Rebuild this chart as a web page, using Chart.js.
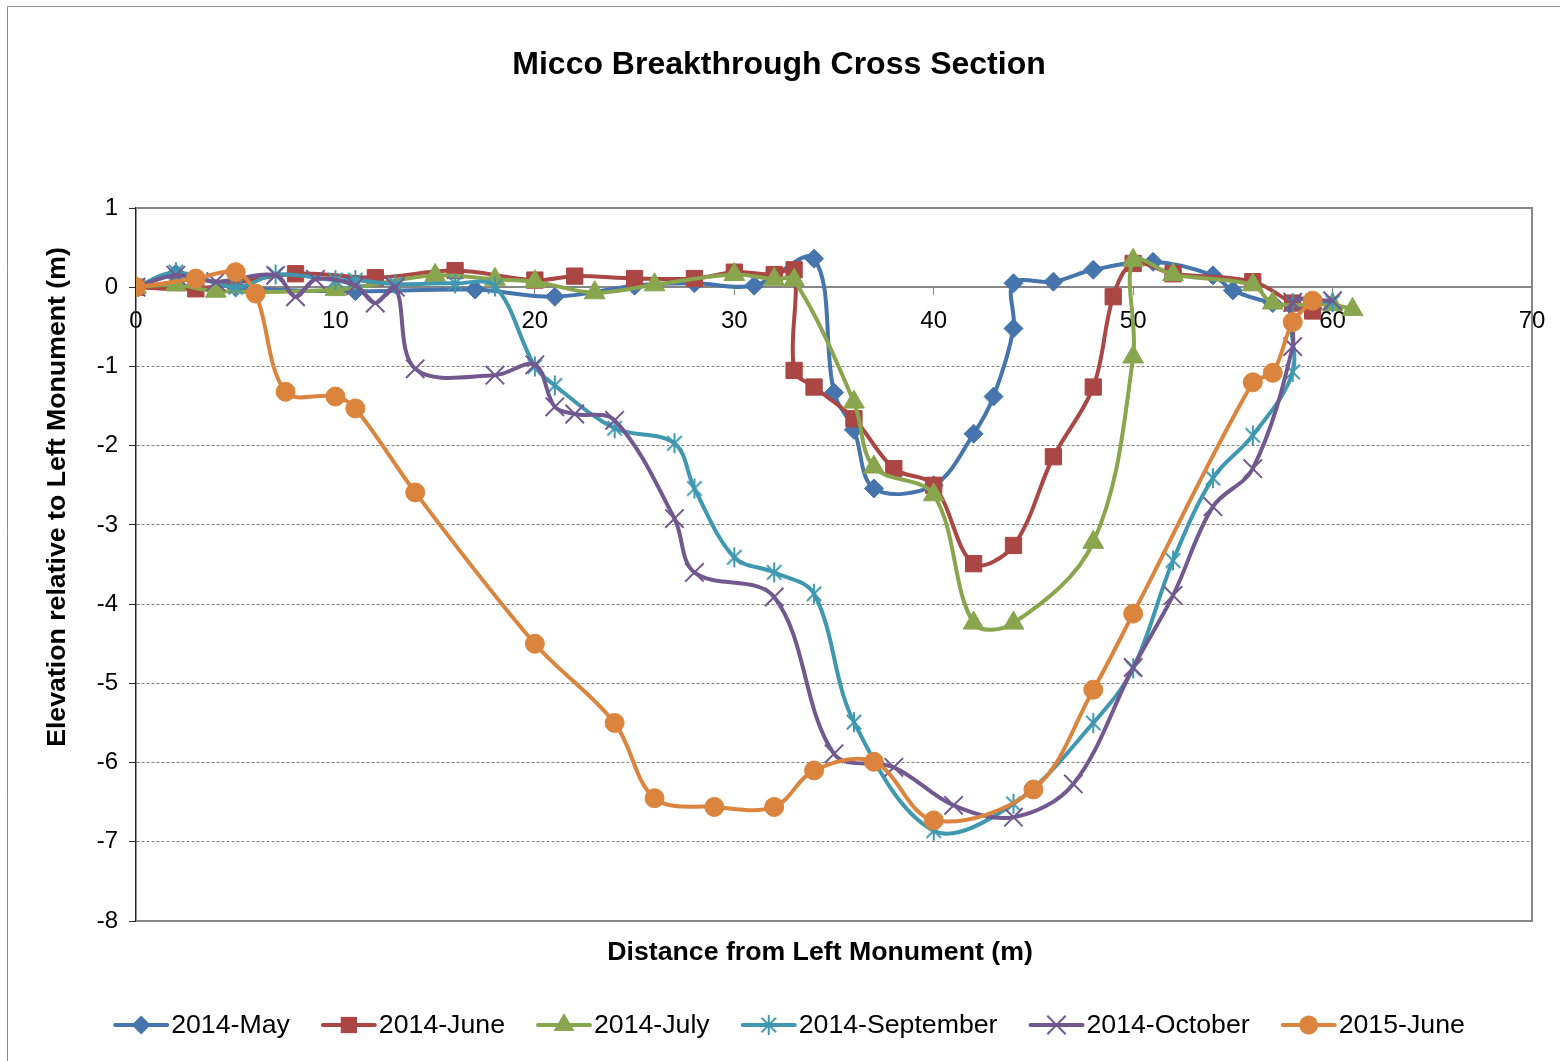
<!DOCTYPE html>
<html>
<head>
<meta charset="utf-8">
<script src="https://cdn.jsdelivr.net/npm/chart.js@4.4.1/dist/chart.umd.min.js"></script>
<style>
  html, body { margin: 0; background: #fff; }
  canvas { display: block; }
</style>
</head>
<body>
<canvas id="myChart" width="1560" height="1061"></canvas>
<script>
// series data (distance m, elevation m)
const seriesNames = ['2014-May', '2014-June', '2014-July', '2014-September', '2014-October', '2015-June'];

const mayDist = [0, 2, 5, 11, 17, 21, 25, 28, 31, 34, 35, 36, 37, 40, 42, 43, 44, 44, 46, 48, 51, 54, 55, 57, 59];
const mayElev = [0, 0.17, 0, -0.05, -0.03, -0.12, 0.02, 0.05, 0.02, 0.36, -1.33, -1.8, -2.54, -2.5, -1.85, -1.38, -0.52, 0.05, 0.07, 0.22, 0.32, 0.15, -0.04, -0.2, -0.27];

const juneDist = [0, 3, 8, 12, 16, 20, 22, 25, 28, 30, 32, 33, 33, 34, 36, 38, 40, 42, 44, 46, 48, 49, 50, 52, 56, 58, 59];
const juneElev = [0, -0.02, 0.17, 0.12, 0.21, 0.09, 0.14, 0.11, 0.11, 0.19, 0.16, 0.22, -1.05, -1.26, -1.66, -2.29, -2.5, -3.49, -3.26, -2.14, -1.26, -0.12, 0.3, 0.17, 0.07, -0.2, -0.3];

const julyDist = [0, 2, 4, 10, 15, 18, 20, 23, 26, 30, 32, 33, 36, 37, 40, 42, 44, 48, 50, 50, 52, 56, 57, 60, 61];
const julyElev = [0, 0.03, -0.05, -0.03, 0.15, 0.1, 0.07, -0.07, 0.03, 0.16, 0.1, 0.09, -1.45, -2.27, -2.62, -4.24, -4.24, -3.22, -0.88, 0.34, 0.16, 0.03, -0.2, -0.22, -0.28];

const sepDist = [0, 2, 5, 7, 10, 11, 13, 16, 18, 20, 21, 24, 27, 28, 30, 32, 34, 36, 40, 44, 48, 50, 52, 54, 56, 58, 58, 60];
const sepElev = [0, 0.19, 0, 0.16, 0.09, 0.09, 0.04, 0.05, 0.01, -1.0, -1.24, -1.78, -1.97, -2.54, -3.41, -3.6, -3.87, -5.49, -6.86, -6.52, -5.5, -4.81, -3.45, -2.41, -1.87, -1.07, -0.2, -0.19];

const octDist = [0, 2, 4, 7, 8, 9, 11, 12, 13, 14, 18, 20, 21, 22, 24, 27, 28, 32, 35, 38, 41, 44, 47, 50, 52, 54, 56, 58, 58, 60];
const octElev = [0, 0.15, 0.07, 0.15, -0.12, 0.1, 0.02, -0.2, 0, -1.03, -1.11, -0.98, -1.51, -1.6, -1.68, -2.92, -3.6, -3.91, -5.89, -6.06, -6.54, -6.69, -6.27, -4.8, -3.89, -2.77, -2.29, -0.75, -0.19, -0.17];

const jun15Dist = [0, 3, 5, 6, 7.5, 10, 11, 14, 20, 24, 26, 29, 32, 34, 37, 40, 45, 48, 50, 56, 57, 58, 59];
const jun15Elev = [0, 0.11, 0.19, -0.08, -1.32, -1.38, -1.53, -2.59, -4.5, -5.5, -6.45, -6.56, -6.56, -6.1, -5.99, -6.73, -6.34, -5.08, -4.12, -1.2, -1.08, -0.44, -0.17];

const xTicks = [0, 10, 20, 30, 40, 50, 60, 70];
const yTicks = [1, 0, -1, -2, -3, -4, -5, -6, -7, -8];

const colors = ['#4674ac', '#aa4643', '#89a54e', '#3f98b0', '#71598f', '#db843d'];
const FONT = "'Liberation Sans', Arial, sans-serif";

function pairs(xs, ys) {
  return xs.map((x, i) => ({ x: x, y: ys[i] }));
}

// excel style asterisk marker (X with a vertical bar)
function asterisk(color, r) {
  const c = document.createElement('canvas');
  c.width = c.height = 2 * r + 4;
  const g = c.getContext('2d');
  const m = r + 2, d = r * 0.72;
  g.strokeStyle = color;
  g.lineWidth = 2;
  g.beginPath();
  g.moveTo(m, m - r); g.lineTo(m, m + r);
  g.moveTo(m - d, m - d); g.lineTo(m + d, m + d);
  g.moveTo(m - d, m + d); g.lineTo(m + d, m - d);
  g.stroke();
  return c;
}

const markers = [
  { style: 'rectRot', r: 9.5 },
  { style: 'rect', r: 11.5 },
  { style: 'triangle', r: 12 },
  { style: asterisk(colors[3], 10), r: 10 },
  { style: 'crossRot', r: 13 },
  { style: 'circle', r: 9.5 }
];

const allData = [
  pairs(mayDist, mayElev),
  pairs(juneDist, juneElev),
  pairs(julyDist, julyElev),
  pairs(sepDist, sepElev),
  pairs(octDist, octElev),
  pairs(jun15Dist, jun15Elev)
];

const datasets = seriesNames.map((name, i) => ({
  label: name,
  data: allData[i],
  showLine: true,
  tension: 0.35,
  borderColor: colors[i],
  borderWidth: 4,
  backgroundColor: colors[i],
  pointStyle: markers[i].style,
  pointRadius: markers[i].r,
  pointBorderWidth: (i === 4) ? 2 : 1,
  pointBorderColor: colors[i],
  pointBackgroundColor: colors[i],
  order: 5 - i
}));

function drawMarker(ctx, i, x, y) {
  const m = markers[i];
  const r = m.r;
  ctx.fillStyle = colors[i];
  ctx.strokeStyle = colors[i];
  ctx.lineWidth = 2;
  ctx.beginPath();
  if (typeof m.style !== 'string') {
    ctx.drawImage(m.style, x - m.style.width / 2, y - m.style.height / 2);
    return;
  }
  if (m.style === 'rectRot') {
    ctx.moveTo(x, y - r); ctx.lineTo(x + r, y); ctx.lineTo(x, y + r); ctx.lineTo(x - r, y);
    ctx.closePath(); ctx.fill();
  } else if (m.style === 'rect') {
    const s = r * Math.SQRT1_2;
    ctx.rect(x - s, y - s, 2 * s, 2 * s); ctx.fill();
  } else if (m.style === 'triangle') {
    ctx.moveTo(x, y - r);
    ctx.lineTo(x + r * Math.sin(2 * Math.PI / 3), y - r * Math.cos(2 * Math.PI / 3));
    ctx.lineTo(x + r * Math.sin(4 * Math.PI / 3), y - r * Math.cos(4 * Math.PI / 3));
    ctx.closePath(); ctx.fill();
  } else if (m.style === 'crossRot') {
    const d = r * Math.SQRT1_2;
    ctx.moveTo(x - d, y - d); ctx.lineTo(x + d, y + d);
    ctx.moveTo(x - d, y + d); ctx.lineTo(x + d, y - d);
    ctx.stroke();
  } else {
    ctx.arc(x, y, r, 0, Math.PI * 2); ctx.fill();
  }
}

// frame, plot border, titles and legend
const decorations = {
  id: 'decorations',
  beforeDatasetsDraw(chart) {
    const { ctx, chartArea: a } = chart;
    ctx.save();
    ctx.strokeStyle = '#868686';
    ctx.lineWidth = 2;
    ctx.beginPath();
    ctx.moveTo(a.left, a.top); ctx.lineTo(a.right, a.top);
    ctx.lineTo(a.right, a.bottom); ctx.lineTo(a.left, a.bottom);
    ctx.stroke();
    ctx.restore();
  },
  afterDraw(chart) {
    const { ctx } = chart;
    ctx.save();
    // outer frame
    ctx.strokeStyle = '#8c8c8c';
    ctx.lineWidth = 1;
    ctx.beginPath();
    ctx.moveTo(7.5, 1061); ctx.lineTo(7.5, 6.5); ctx.lineTo(1560, 6.5);
    ctx.stroke();

    ctx.fillStyle = '#000';
    ctx.textAlign = 'center';
    ctx.textBaseline = 'middle';
    ctx.font = 'bold 32px ' + FONT;
    ctx.fillText('Micco Breakthrough Cross Section', 779, 65);

    ctx.font = 'bold 26.7px ' + FONT;
    ctx.fillText('Distance from Left Monument (m)', 820, 953);
    ctx.save();
    ctx.translate(58, 497);
    ctx.rotate(-Math.PI / 2);
    ctx.fillText('Elevation relative to Left Monument (m)', 0, 0);
    ctx.restore();

    // legend: line + marker + label
    ctx.font = '26.7px ' + FONT;
    const widths = seriesNames.map(n => ctx.measureText(n).width);
    const icon = 58, gap = 31;
    const total = widths.reduce((s, w) => s + icon + w, 0) + gap * (seriesNames.length - 1);
    let x = 789 - total / 2;
    const y = 1025;
    seriesNames.forEach((name, i) => {
      ctx.strokeStyle = colors[i];
      ctx.lineWidth = 4;
      ctx.lineCap = 'round';
      ctx.beginPath();
      ctx.moveTo(x + 2, y); ctx.lineTo(x + 54, y);
      ctx.stroke();
      ctx.lineCap = 'butt';
      drawMarker(ctx, i, x + 28, y);
      ctx.fillStyle = '#000';
      ctx.textAlign = 'left';
      ctx.textBaseline = 'middle';
      ctx.fillText(name, x + icon, y + 1);
      x += icon + widths[i] + gap;
    });
    ctx.restore();
  }
};

const ctx = document.getElementById('myChart').getContext('2d');
const chart = new Chart(ctx, {
  type: 'scatter',
  data: { datasets: datasets },
  plugins: [decorations],
  options: {
    responsive: false,
    animation: false,
    devicePixelRatio: 1,
    layout: { padding: { top: 208, bottom: 140, right: 28, left: 0 } },
    plugins: {
      legend: { display: false },
      title: { display: false },
      tooltip: { enabled: false }
    },
    scales: {
      x: {
        type: 'linear',
        position: { y: 0 },
        min: 0,
        max: 70,
        afterBuildTicks(scale) { scale.ticks = xTicks.map(v => ({ value: v })); },
        ticks: { color: '#000', font: { family: FONT, size: 24 }, padding: 13, maxRotation: 0 },
        grid: { display: true, drawOnChartArea: false, drawTicks: true, tickLength: 7, tickColor: '#868686', tickWidth: 1 },
        border: { display: true, color: '#868686', width: 2 }
      },
      y: {
        type: 'linear',
        min: -8,
        max: 1,
        afterBuildTicks(scale) { scale.ticks = yTicks.map(v => ({ value: v })); },
        afterFit(scale) { scale.width = 136; },
        ticks: { color: '#000', font: { family: FONT, size: 24 }, padding: 11 },
        grid: {
          color: (c) => (c.tick && [1, 0, -8].includes(c.tick.value)) ? 'rgba(0,0,0,0)' : '#7f7f7f',
          lineWidth: 1,
          drawTicks: true,
          tickLength: 7,
          tickColor: '#333',
          tickWidth: 1
        },
        border: { display: true, color: '#222', width: 1.5, dash: [3, 2] }
      }
    }
  }
});
</script>
</body>
</html>
